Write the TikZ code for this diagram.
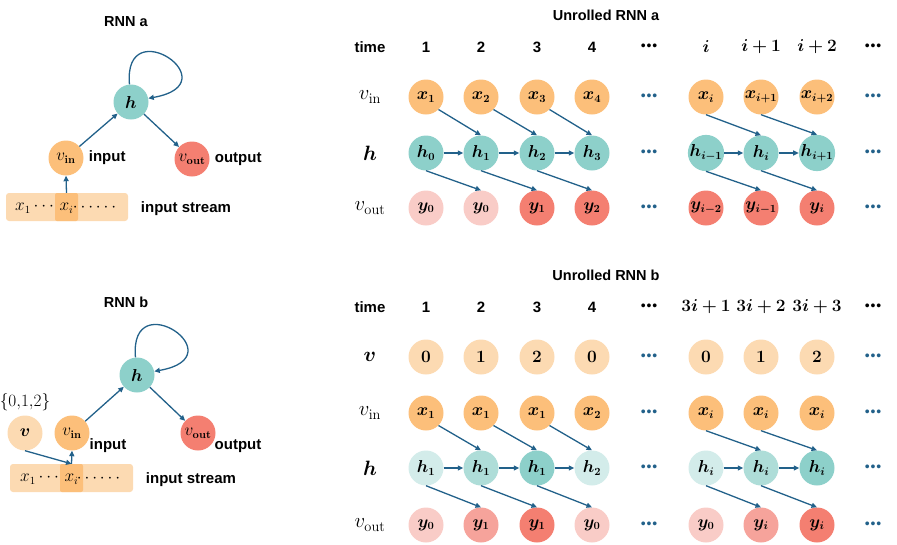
\documentclass[tikz,border=0pt]{standalone}
\usepackage[no-math]{fontspec}
\setmainfont{Liberation Sans}
\usepackage{amsmath,bm}
\usetikzlibrary{arrows.meta,positioning,calc}

\definecolor{orng}{HTML}{FCBF7A}
\definecolor{orngl}{HTML}{FCDAB2}
\definecolor{tealf}{HTML}{8DD0CA}
\definecolor{tealm}{HTML}{AEDDD8}
\definecolor{teall}{HTML}{D3ECEA}
\definecolor{redf}{HTML}{F47F71}
\definecolor{redm}{HTML}{F6A39B}
\definecolor{redl}{HTML}{F9CCC7}
\definecolor{arr}{HTML}{22618A}

\newcommand{\bdots}{\textbullet\hspace{0.8pt}\textbullet\hspace{0.8pt}\textbullet}

\begin{document}
\begin{tikzpicture}[x=1pt,y=-1pt,
    cell/.style={circle, minimum size=35pt, inner sep=0pt, font=\fontsize{16}{17}\selectfont},
    lbl/.style={font=\bfseries\fontsize{15}{16}\selectfont, inner sep=0pt},
    ttl/.style={font=\bfseries\fontsize{14.5}{16}\selectfont, inner sep=0pt},
    rowlbl/.style={font=\fontsize{22}{24}\selectfont, inner sep=0pt},
    flow/.style={-{Triangle[length=5.5pt,width=5pt]}, draw=arr, line width=1.3pt},
    dotsnode/.style={text=arr, font=\fontsize{14}{14}\selectfont, inner sep=0pt},
    streambox/.style={fill=orngl, rounded corners=3pt, minimum height=28pt, inner sep=0pt},
    mathtxt/.style={font=\fontsize{16}{17}\selectfont, inner sep=0pt}]
\useasboundingbox (0,0) rectangle (897,544);

% RNN a
\node[ttl] (rnna) at (126,22) {RNN a};
\node[cell, fill=tealf] (ha) at (131,102) {$\bm{h}$};
\node[cell, fill=orng] (vina) at (66,158) {$v_{\mathbf{in}}$};
\node[cell, fill=redf] (vouta) at (192,159) {$v_{\mathbf{out}}$};
\node[lbl, right=5pt of vina] (ina) {input};
\node[lbl, right=5pt of vouta] (outa) {output};
\node[streambox, minimum width=122pt] (boxa) at (67,207) {};
\node[streambox, fill=orng, minimum width=23pt, rounded corners=2pt] (xia) at (66.5,207) {};
\node[mathtxt] (x1a) at (36,208) {$x_1\cdots$};
\node[mathtxt] (xita) at (66.5,208) {$x_i$};
\node[mathtxt] (dda) at (96,208) {$\cdots\cdots$};
\node[lbl] (sta) at (186,209) {input stream};
\draw[flow] (vina) -- (ha);
\draw[flow] (ha) -- (vouta);
\draw[flow] (ha.95) .. controls +(-95:75) and +(-10:85) .. (ha.12);
\draw[flow] (xia.north) -- (vina.south);

% RNN b
\node[ttl] (rnnb) at (126,302) {RNN b};
\node[cell, fill=tealf] (hb) at (137,375) {$\bm{h}$};
\node[cell, fill=orng] (vinb) at (72,433) {$v_{\mathbf{in}}$};
\node[cell, fill=redf] (voutb) at (198,433) {$v_{\mathbf{out}}$};
\node[cell, fill=orngl] (vb) at (25,433) {$\bm{v}$};
\node[mathtxt] (setb) at (25,402) {$\{0{,}1{,}2\}$};
\node[lbl] (inb) at (108,446) {input};
\node[lbl] (outb) at (238,446) {output};
\node[streambox, minimum width=123pt] (boxb) at (71.5,478) {};
\node[streambox, fill=orng, minimum width=23pt, rounded corners=2pt] (xib) at (71.5,478) {};
\node[mathtxt] (x1b) at (41,479) {$x_1\cdots$};
\node[mathtxt] (xitb) at (71.5,479) {$x_i$};
\node[mathtxt] (ddb) at (100,479) {$\cdots\cdots$};
\node[lbl] (stb) at (191,480) {input stream};
\draw[flow] (vinb) -- (hb);
\draw[flow] (hb) -- (voutb);
\draw[flow] (hb.95) .. controls +(-95:75) and +(-10:85) .. (hb.12);
\draw[flow] (vb.south) -- (xib.north);
\draw[flow] (xib.north) -- (vinb.south);

% Unrolled RNN a
\node[ttl] (una) at (606,15) {Unrolled RNN a};
\node[lbl] (tima) at (370,47) {time};
\node[rowlbl] (lvina) at (370,97) {$v_{\mathrm{in}}$};
\node[rowlbl] (lha) at (370,153) {$\bm{h}$};
\node[rowlbl] (lvouta) at (370,208) {$v_{\mathrm{out}}$};
\foreach \k/\px/\lab in {1/426/1, 2/481/2, 3/537/3, 4/592/4}
  \node[lbl] (ta\k) at (\px,47) {\lab};
\foreach \k/\px/\lab in {5/706/i, 6/761/i+1, 7/817/i+2}
  \node[mathtxt, font=\fontsize{17}{18}\selectfont] (ta\k) at (\px,47) {$\bm{\lab}$};
\foreach \k/\px/\lab in {1/426/x_1, 2/481/x_2, 3/537/x_3, 4/592/x_4, 5/706/x_i, 6/761/x_{i+1}, 7/817/x_{i+2}}
  \node[cell, fill=orng] (xa\k) at (\px,97) {$\bm{\lab}$};
\foreach \k/\px/\lab in {1/426/h_0, 2/481/h_1, 3/537/h_2, 4/592/h_3, 5/706/h_{i-1}, 6/761/h_i, 7/817/h_{i+1}}
  \node[cell, fill=tealf] (hha\k) at (\px,153) {$\bm{\lab}$};
\foreach \k/\px/\lab/\c in {1/426/y_0/redl, 2/481/y_0/redl, 3/537/y_1/redf, 4/592/y_2/redf, 5/706/y_{i-2}/redf, 6/761/y_{i-1}/redf, 7/817/y_i/redf}
  \node[cell, fill=\c] (ya\k) at (\px,208) {$\bm{\lab}$};
\node[dotsnode, text=black] (dta1) at (649,47) {\bdots};
\node[dotsnode, text=black] (dta2) at (873,47) {\bdots};
\foreach \r in {97,153,208} {
  \node[dotsnode] (dla\r) at (649,\r) {\bdots};
  \node[dotsnode] (dra\r) at (873,\r) {\bdots};
}
\foreach \k/\n/\a in {1/2/-45, 2/3/-45, 3/4/-45, 5/6/-90, 6/7/-90} {
  \draw[flow] (xa\k.\a) -- (hha\n.north);
  \draw[flow] (hha\k) -- (hha\n);
  \draw[flow] (hha\k.south) -- (ya\n.north);
}

% Unrolled RNN b
\node[ttl] (unb) at (606,275) {Unrolled RNN b};
\node[lbl] (timb) at (370,307) {time};
\node[rowlbl] (lvb) at (370,357) {$\bm{v}$};
\node[rowlbl] (lvinb) at (370,413) {$v_{\mathrm{in}}$};
\node[rowlbl] (lhb) at (370,468) {$\bm{h}$};
\node[rowlbl] (lvoutb) at (370,525) {$v_{\mathrm{out}}$};
\foreach \k/\px/\lab in {1/426/1, 2/481/2, 3/537/3, 4/592/4}
  \node[lbl] (tb\k) at (\px,307) {\lab};
\foreach \k/\px/\lab in {5/706/3i+1, 6/761/3i+2, 7/817/3i+3}
  \node[mathtxt, font=\fontsize{17}{18}\selectfont] (tb\k) at (\px,307) {$\bm{\lab}$};
\foreach \k/\px/\lab in {1/426/0, 2/481/1, 3/537/2, 4/592/0, 5/706/0, 6/761/1, 7/817/2}
  \node[cell, fill=orngl] (vvb\k) at (\px,357) {$\bm{\lab}$};
\foreach \k/\px/\lab in {1/426/x_1, 2/481/x_1, 3/537/x_1, 4/592/x_2, 5/706/x_i, 6/761/x_i, 7/817/x_i}
  \node[cell, fill=orng] (xb\k) at (\px,413) {$\bm{\lab}$};
\foreach \k/\px/\lab/\c in {1/426/h_1/teall, 2/481/h_1/tealm, 3/537/h_1/tealf, 4/592/h_2/teall, 5/706/h_i/teall, 6/761/h_i/tealm, 7/817/h_i/tealf}
  \node[cell, fill=\c] (hhb\k) at (\px,468) {$\bm{\lab}$};
\foreach \k/\px/\lab/\c in {1/426/y_0/redl, 2/481/y_1/redm, 3/537/y_1/redf, 4/592/y_0/redl, 5/706/y_0/redl, 6/761/y_i/redm, 7/817/y_i/redf}
  \node[cell, fill=\c] (yb\k) at (\px,525) {$\bm{\lab}$};
\node[dotsnode, text=black] (dtb1) at (649,307) {\bdots};
\node[dotsnode, text=black] (dtb2) at (873,307) {\bdots};
\foreach \r in {357,413,468,525} {
  \node[dotsnode] (dlb\r) at (649,\r) {\bdots};
  \node[dotsnode] (drb\r) at (873,\r) {\bdots};
}
\foreach \k/\n/\a in {1/2/-45, 2/3/-45, 3/4/-45, 5/6/-90, 6/7/-90} {
  \draw[flow] (xb\k.\a) -- (hhb\n.north);
  \draw[flow] (hhb\k) -- (hhb\n);
  \draw[flow] (hhb\k.south) -- (yb\n.north);
}
\end{tikzpicture}
\end{document}
